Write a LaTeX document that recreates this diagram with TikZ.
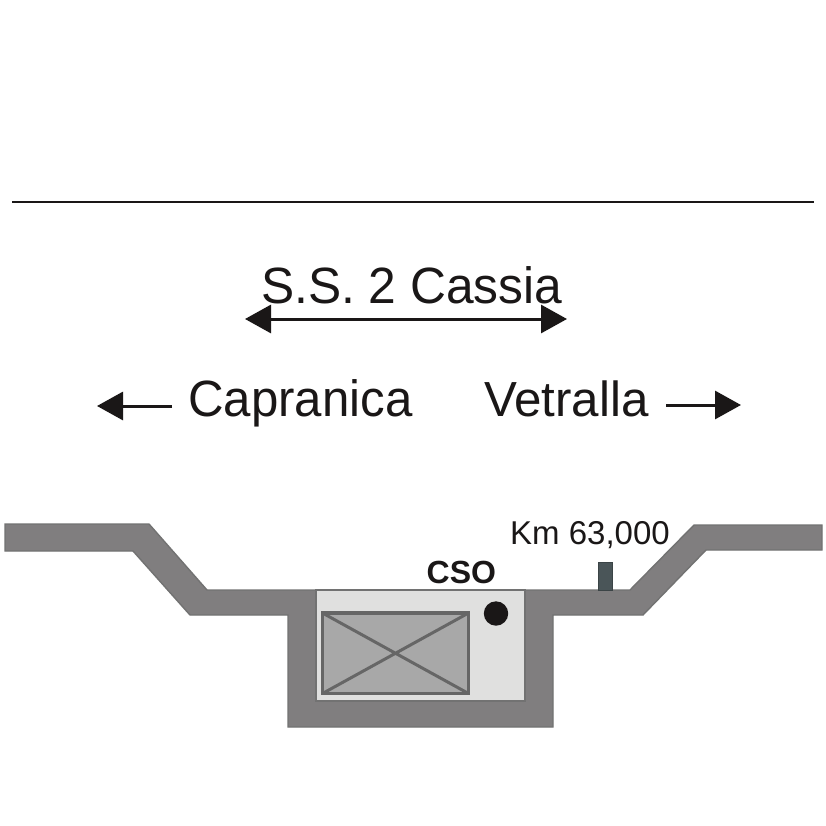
\documentclass[tikz,border=0pt]{standalone}
\usepackage{fontspec}
\setmainfont{Liberation Sans}
\usetikzlibrary{arrows.meta}
\definecolor{roadfill}{HTML}{807E7F}
\definecolor{roadedge}{HTML}{727272}
\definecolor{pitfill}{HTML}{E0E0DF}
\definecolor{boxfill}{HTML}{A8A8A8}
\definecolor{boxedge}{HTML}{666666}
\definecolor{ink}{HTML}{1A1717}
\definecolor{postfill}{HTML}{4A5558}
\tikzset{
  x=1pt,y=-1pt,
  label/.style={inner sep=0pt,text=ink,anchor=base west},
  bigarrow/.style={draw=ink,line width=3pt,-{Triangle[length=26pt,width=28pt,color=ink]}},
  bothway/.style={draw=ink,line width=3pt,{Triangle[length=26pt,width=28pt,color=ink]}-{Triangle[length=26pt,width=28pt,color=ink]}},
  road/.style={fill=roadfill,draw=roadedge,line width=1.4pt,line join=miter},
  vaultbox/.style={draw=boxedge,line width=3.6pt}
}
\begin{document}
\begin{tikzpicture}
\useasboundingbox (0,0) rectangle (826,826);
\fill[white] (0,0) rectangle (826,826);
\coordinate (topL) at (12,202);
\coordinate (topR) at (814,202);
\draw[ink,line width=2.6pt] (topL) -- (topR);
\node[label,font=\fontsize{51}{51}\selectfont,xscale=0.975] (cassia) at (261,303) {S.S. 2 Cassia};
\coordinate (cassiaL) at (245,319);
\coordinate (cassiaR) at (567,319);
\draw[bothway] (cassiaL) -- (cassiaR);
\node[label,font=\fontsize{51}{51}\selectfont,xscale=0.965] (capr) at (188,416.5) {Capranica};
\node[label,font=\fontsize{49.3}{49.3}\selectfont] (vetr) at (484,416.5) {Vetralla};
\coordinate (caprA) at (172,406);
\coordinate (caprB) at (97,406);
\coordinate (vetrA) at (666,405);
\coordinate (vetrB) at (741,405);
\draw[bigarrow] (caprA) -- (caprB);
\draw[bigarrow] (vetrA) -- (vetrB);
\draw[road] (5,524) -- (149,524) -- (207,590) -- (630,590) -- (694,525) -- (822,525) -- (822,550) -- (706,550) -- (643,615) -- (553,615) -- (553,727) -- (288,727) -- (288,615) -- (190,615) -- (133,551) -- (5,551) -- cycle;
\draw[fill=pitfill,draw=roadedge,line width=1.6pt] (316,590) rectangle (525,701);
\draw[vaultbox,fill=boxfill] (322.5,613) rectangle (468.5,693.5);
\coordinate (vA) at (322.5,613);
\coordinate (vB) at (468.5,693.5);
\coordinate (vC) at (468.5,613);
\coordinate (vD) at (322.5,693.5);
\draw[vaultbox,line width=3pt] (vA) -- (vB) (vC) -- (vD);
\fill[ink] (496,613.5) circle (12.2);
\draw[fill=postfill,draw=postfill!80!black,line width=0.8pt] (598.5,562) rectangle (612,590);
\node[label,font=\fontsize{32}{32}\bfseries\selectfont] (cso) at (426.5,583.5) {CSO};
\node[label,font=\fontsize{33}{33}\selectfont] (km) at (510,544.5) {Km 63,000};
\end{tikzpicture}
\end{document}
